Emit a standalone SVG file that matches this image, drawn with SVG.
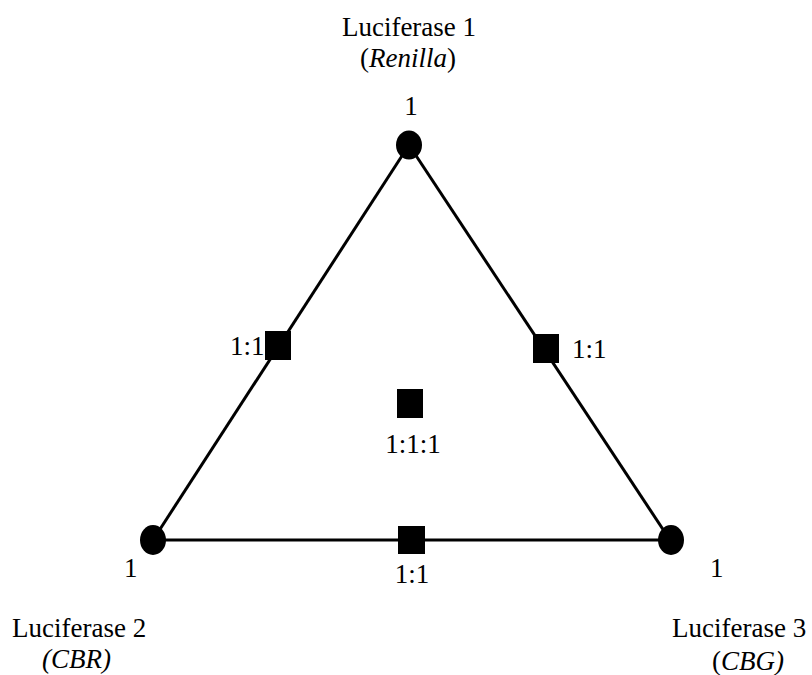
<svg xmlns="http://www.w3.org/2000/svg" width="812" height="675" viewBox="0 0 812 675">
<style>
text{font-family:"Liberation Serif","Times New Roman",serif;font-size:27px;fill:#000}
.m{text-anchor:middle}
.i{font-style:italic}
.e{stroke:#000;stroke-width:3;fill:none}
</style>
<rect width="812" height="675" fill="#fff"/>
<g id="connectors">
<line class="e" x1="409" y1="145" x2="153" y2="540"/>
<line class="e" x1="409" y1="145" x2="670" y2="540"/>
<line class="e" x1="153" y1="540" x2="670" y2="540"/>
</g>
<g id="luc1">
<ellipse cx="409" cy="145" rx="13" ry="14.5"/>
<text class="m" x="409" y="36">Luciferase 1</text>
<text class="m" x="408" y="67">(<tspan class="i">Renilla</tspan>)</text>
<text class="m" x="411" y="115">1</text>
</g>
<g id="luc2">
<ellipse cx="153" cy="540" rx="13" ry="15"/>
<text x="124" y="577">1</text>
<text x="12" y="637">Luciferase 2</text>
<text x="42" y="668" class="i">(CBR)</text>
</g>
<g id="luc3">
<ellipse cx="671" cy="540" rx="13" ry="15"/>
<text x="710" y="577">1</text>
<text x="672" y="637">Luciferase 3</text>
<text x="712" y="670"><tspan>(</tspan><tspan class="i">CBG</tspan><tspan class="i">)</tspan></text>
</g>
<g id="mix12">
<rect x="265" y="331" width="26" height="29"/>
<text x="230" y="355">1:1</text>
</g>
<g id="mix13">
<rect x="533" y="334" width="26" height="29"/>
<text x="572" y="358">1:1</text>
</g>
<g id="mix123">
<rect x="397" y="389" width="26" height="29"/>
<text class="m" x="413" y="453">1:1:1</text>
</g>
<g id="mix23">
<rect x="398" y="526" width="27" height="28"/>
<text class="m" x="412" y="583">1:1</text>
</g>
</svg>
